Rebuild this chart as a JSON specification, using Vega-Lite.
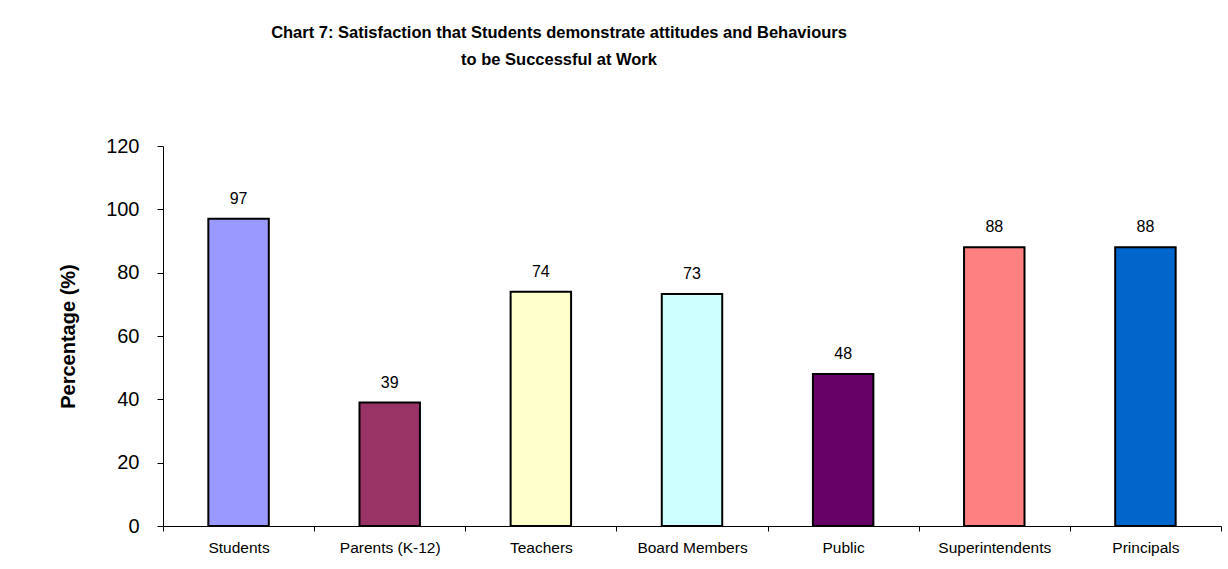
{
  "$schema": "https://vega.github.io/schema/vega-lite/v6.json",
  "autosize": "none",
  "width": 1058,
  "height": 380,
  "padding": {"left": 163, "top": 146, "right": 7, "bottom": 43},
  "background": "white",
  "config": {
    "view": {"stroke": null},
    "font": "Liberation Sans"
  },
  "title": {
    "text": ["Chart 7: Satisfaction that Students demonstrate attitudes and Behaviours", "\u00a0\u00a0\u00a0\u00a0\u00a0\u00a0\u00a0\u00a0\u00a0\u00a0\u00a0\u00a0\u00a0\u00a0\u00a0\u00a0\u00a0\u00a0\u00a0\u00a0\u00a0\u00a0\u00a0\u00a0\u00a0to be Successful at Work"],
    "font": "Liberation Sans",
    "fontSize": 16.5,
    "fontWeight": "bold",
    "color": "black",
    "anchor": "middle",
    "frame": "group",
    "dx": -133,
    "lineHeight": 27,
    "offset": 68
  },
  "data": {
    "values": [
      {"group": "Students", "pct": 97, "label": "97"},
      {"group": "Parents (K-12)", "pct": 39, "label": "39"},
      {"group": "Teachers", "pct": 74, "label": "74"},
      {"group": "Board Members", "pct": 73.3, "label": "73"},
      {"group": "Public", "pct": 48, "label": "48"},
      {"group": "Superintendents", "pct": 88, "label": "88"},
      {"group": "Principals", "pct": 88, "label": "88"}
    ]
  },
  "encoding": {
    "x": {
      "field": "group",
      "type": "nominal",
      "sort": null,
      "scale": {"paddingInner": 0, "paddingOuter": 0},
      "axis": {
        "title": null,
        "labelAngle": 0,
        "labelFont": "Liberation Sans",
        "labelFontSize": 15.5,
        "labelColor": "black",
        "labelPadding": 9,
        "tickBand": "extent",
        "tickSize": 5,
        "tickColor": "black",
        "domainColor": "black",
        "tickWidth": 1,
        "domainWidth": 1
      }
    },
    "y": {
      "field": "pct",
      "type": "quantitative",
      "scale": {"domain": [0, 120], "nice": false},
      "axis": {
        "title": "Percentage (%)",
        "titleFont": "Liberation Sans",
        "titleFontSize": 20,
        "titleFontWeight": "bold",
        "titleColor": "black",
        "titlePadding": 27,
        "values": [0, 20, 40, 60, 80, 100, 120],
        "labelFont": "Liberation Sans",
        "labelFontSize": 20,
        "labelColor": "black",
        "labelPadding": 18,
        "grid": false,
        "tickSize": 6,
        "tickColor": "black",
        "domainColor": "black"
      }
    }
  },
  "layer": [
    {
      "mark": {"type": "bar", "width": {"band": 0.4}, "stroke": "black", "strokeWidth": 2},
      "encoding": {
        "color": {
          "field": "group",
          "type": "nominal",
          "sort": null,
          "scale": {
            "domain": ["Students", "Parents (K-12)", "Teachers", "Board Members", "Public", "Superintendents", "Principals"],
            "range": ["#9999FF", "#993366", "#FFFFCC", "#CCFFFF", "#660066", "#FF8080", "#0066CC"]
          },
          "legend": null
        }
      }
    },
    {
      "mark": {"type": "text", "dy": -12, "baseline": "bottom", "font": "Liberation Sans", "fontSize": 16, "color": "black"},
      "encoding": {"text": {"field": "label"}}
    }
  ]
}
